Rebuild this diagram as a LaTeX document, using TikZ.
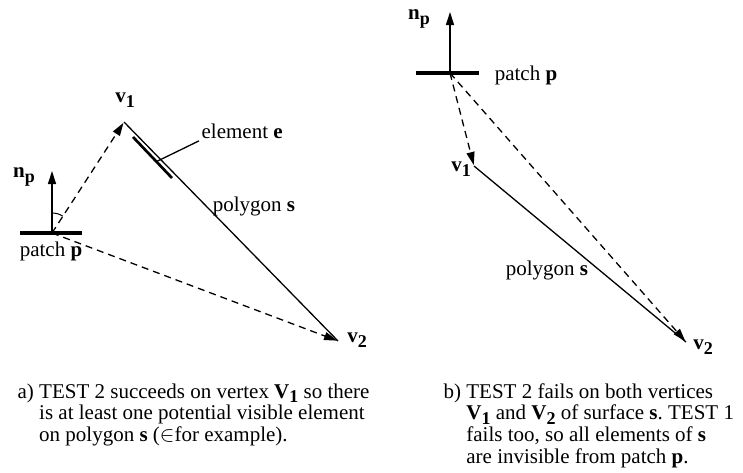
\documentclass[tikz,border=0pt]{standalone}
\usepackage{fontspec}
\setmainfont{Liberation Serif}
\usetikzlibrary{positioning, calc, arrows.meta}

% lowered bold index, as in v1, np
\newcommand{\lowsub}[1]{\raisebox{-0.5ex}{\fontsize{9}{9}\selectfont\textbf{#1}}}
\frenchspacing

\begin{document}
\begin{tikzpicture}[
    x=0.5pt, y=-0.5pt,
    >={Triangle[length=6.5pt, width=4pt]},
    line width=0.65pt,
    ray/.style={->, dash pattern=on 3.5pt off 2.5pt, shorten >=0.5pt},
    patchline/.style={line width=1.7pt},
    elemline/.style={line width=1.35pt},
    lbl/.style={inner sep=1pt, font=\fontsize{10.5}{10.85}\selectfont},
    captext/.style={inner sep=0pt, font=\fontsize{10.5}{10.85}\selectfont}
]
\useasboundingbox (0,0) rectangle (743,472);

% Left: TEST 2 succeeds
\coordinate (pA) at (52,233);
\coordinate (pAl) at (20,233);
\coordinate (pAr) at (82,233);
\coordinate (nA) at (52,171);
\coordinate (v1A) at (124,122);
\coordinate (v2A) at (338,341);
\coordinate (eA1) at (133,137);
\coordinate (eA2) at (172,178);

\node[lbl] (npA) at (24,177) {\textbf{n}\lowsub{p}};
\node[lbl] (ptA) at (51,251) {patch \textbf{p}};
\node[lbl] (lv1A) at (125,100) {\textbf{v}\lowsub{1}};
\node[lbl] (lv2A) at (357,340) {\textbf{v}\lowsub{2}};
\node[lbl, anchor=base west] (elA) at (199,138) {element \textbf{e}};
\node[lbl] (psA) at (254,206) {polygon \textbf{s}};

\draw[patchline] (pAl) -- (pAr);
\draw[->] (pA) -- (nA);
\draw[ray] (pA) -- (v1A);
\draw[ray] (pA) -- (v2A);
\draw (v1A) -- (v2A);
\draw[elemline] (eA1) -- (eA2);
\draw ($(eA1)!0.6!(eA2)$) -- (elA.south west);
\draw[line width=0.5pt] ($(pA)!10pt!(nA)$) to[bend left=15] ($(pA)!10pt!(v1A)$); % angle mark

% Right: TEST 2 fails
\coordinate (pB) at (450,73);
\coordinate (pBl) at (416,73);
\coordinate (pBr) at (479,73);
\coordinate (nB) at (450,12);
\coordinate (v1B) at (474,166);
\coordinate (v2B) at (686,342);

\node[lbl] (npB) at (419,19) {\textbf{n}\lowsub{p}};
\node[lbl] (ptB) at (526,75) {patch \textbf{p}};
\node[lbl] (lv1B) at (461,169) {\textbf{v}\lowsub{1}};
\node[lbl] (lv2B) at (703,347) {\textbf{v}\lowsub{2}};
\node[lbl] (psB) at (547,270) {polygon \textbf{s}};

\draw[patchline] (pBl) -- (pBr);
\draw[->] (pB) -- (nB);
\draw[ray] (pB) -- (v1B);
\draw[ray] (pB) -- (v2B);
\draw (v1B) -- (v2B);

% Captions
\node[captext, anchor=base west] (capA) at (17,398) {%
  \begin{tabular}[t]{@{}l@{\ }l@{}}
  a) & TEST 2 succeeds on vertex \textbf{V}\lowsub{1} so there\\
     & is at least one potential visible element\\
     & on polygon \textbf{s} ($\in$for example).
  \end{tabular}};
\node[captext, anchor=base west] (capB) at (443,398) {%
  \begin{tabular}[t]{@{}l@{\ }l@{}}
  b) & TEST 2 fails on both vertices\\
     & \textbf{V}\lowsub{1} and \textbf{V}\lowsub{2} of surface \textbf{s}. TEST 1\\
     & fails too, so all elements of \textbf{s}\\
     & are invisible from patch \textbf{p}.
  \end{tabular}};

\end{tikzpicture}
\end{document}
